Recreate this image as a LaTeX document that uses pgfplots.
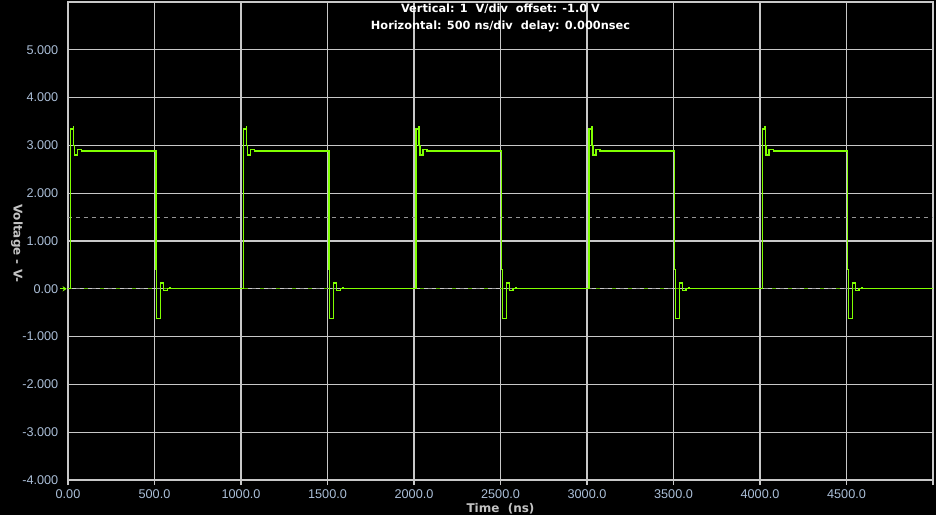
\documentclass[border=0pt]{standalone}
\usepackage{fontspec}
\setmainfont{Liberation Sans}
\newfontfamily\djv{DejaVu Sans}
\usepackage{pgfplots}
\pgfplotsset{compat=1.18}
\usetikzlibrary{arrows.meta}
\definecolor{gridc}{RGB}{200,200,200}
\definecolor{tickc}{RGB}{170,190,215}
\definecolor{labc}{RGB}{195,195,195}
\definecolor{trace}{RGB}{128,255,0}
\definecolor{dashg}{RGB}{150,150,150}
\begin{document}
\begin{tikzpicture}[x=1pt,y=1pt]
\clip (-51,-26.25) rectangle (651,360);
\fill[black] (-51,-26.25) rectangle (651,360);
\begin{axis}[at={(0,0)}, anchor=south west, scale only axis,
  width=648.75pt, height=358.5pt,
  xmin=0, xmax=5000, ymin=-4, ymax=6, clip=false,
  xtick={0,500,...,5000},
  xticklabels={0.00,500.0,1000.0,1500.0,2000.0,2500.0,3000.0,3500.0,4000.0,4500.0,{}},
  ytick={-4,-3,...,6},
  yticklabels={-4.000,-3.000,-2.000,-1.000,0.00,1.000,2.000,3.000,4.000,5.000,{}},
  grid=major, major grid style={draw=gridc, line width=0.8pt},
  axis line style={draw=gridc, line width=0.8pt},
  tick label style={font=\fontsize{9.5}{11}\selectfont, text=tickc},
  tick align=outside, major tick length=3.75pt,
  xtick pos=left, ytick pos=left,
  xtick style={draw=gridc, line width=0.8pt},
  ytick style={draw=none},
  yticklabel style={xshift=0pt},
  xlabel={Time~ (ns)}, ylabel={Voltage - V-},
  label style={font=\djv\bfseries\fontsize{9}{11}\selectfont, text=labc},
  xlabel style={at={(axis description cs:0.5,0)}, anchor=center, yshift=-21.75pt},
  ylabel style={at={(axis description cs:-0.059,0.495)}, anchor=center, rotate=180},
]
\addplot[dashg, line width=0.7pt, dash pattern=on 3pt off 3pt] coordinates {(0,1.5)(5000,1.5)};
\addplot[dashg, line width=0.7pt, dash pattern=on 3pt off 3pt] coordinates {(0,0)(5000,0)};
\addplot[trace!70!black, line width=0.7pt, dash pattern=on 3pt off 9pt] coordinates {(0,0)(5000,0)};
\addplot[trace, line width=1pt, line join=miter] coordinates {
(0,0)(14,0)(14,3.34)(30,3.34)(30,3.40)(31,3.40)(31,3.00)(36,3.00)(36,2.80)(54,2.80)(54,2.92)(78,2.92)(78,2.88)
(508,2.88)(508,0.40)(513,0.40)(513,-0.62)(535,-0.62)(535,0.12)(553,0.12)(553,-0.04)(574,-0.04)(574,0)(590,0)(590,0.03)(593,0.03)(593,0)
(1014,0)(1014,3.34)(1030,3.34)(1030,3.40)(1031,3.40)(1031,3.00)(1036,3.00)(1036,2.80)(1054,2.80)(1054,2.92)(1078,2.92)(1078,2.88)
(1508,2.88)(1508,0.40)(1513,0.40)(1513,-0.62)(1535,-0.62)(1535,0.12)(1553,0.12)(1553,-0.04)(1574,-0.04)(1574,0)(1590,0)(1590,0.03)(1593,0.03)(1593,0)
(2012,0)(2012,3.34)(2028,3.34)(2028,3.40)(2029,3.40)(2029,3.00)(2034,3.00)(2034,2.80)(2052,2.80)(2052,2.92)(2076,2.92)(2076,2.88)
(2507,2.88)(2507,0.40)(2512,0.40)(2512,-0.62)(2534,-0.62)(2534,0.12)(2552,0.12)(2552,-0.04)(2573,-0.04)(2573,0)(2589,0)(2589,0.03)(2592,0.03)(2592,0)
(3012,0)(3012,3.34)(3028,3.34)(3028,3.40)(3029,3.40)(3029,3.00)(3034,3.00)(3034,2.80)(3052,2.80)(3052,2.92)(3076,2.92)(3076,2.88)
(3507,2.88)(3507,0.40)(3512,0.40)(3512,-0.62)(3534,-0.62)(3534,0.12)(3552,0.12)(3552,-0.04)(3573,-0.04)(3573,0)(3589,0)(3589,0.03)(3592,0.03)(3592,0)
(4013,0)(4013,3.34)(4029,3.34)(4029,3.40)(4030,3.40)(4030,3.00)(4035,3.00)(4035,2.80)(4053,2.80)(4053,2.92)(4077,2.92)(4077,2.88)
(4506,2.88)(4506,0.40)(4511,0.40)(4511,-0.62)(4533,-0.62)(4533,0.12)(4551,0.12)(4551,-0.04)(4572,-0.04)(4572,0)(4588,0)(4588,0.03)(4591,0.03)(4591,0)
(5000,0)};
\draw[trace, line width=1pt, -{Stealth[length=3pt,width=4pt]}] (axis cs:-45,0) -- (axis cs:-8,0);
\node[anchor=base, text=white, font=\djv\bfseries\fontsize{8.5}{10}\selectfont, yshift=-8.25pt]
  at (rel axis cs:0.5,1) {Vertical: 1~ V/div~ offset: -1.0 V};
\node[anchor=base, text=white, font=\djv\bfseries\fontsize{8.5}{10}\selectfont, yshift=-20.5pt]
  at (rel axis cs:0.5,1) {Horizontal: 500 ns/div~ delay: 0.000nsec};
\end{axis}
\end{tikzpicture}
\end{document}
